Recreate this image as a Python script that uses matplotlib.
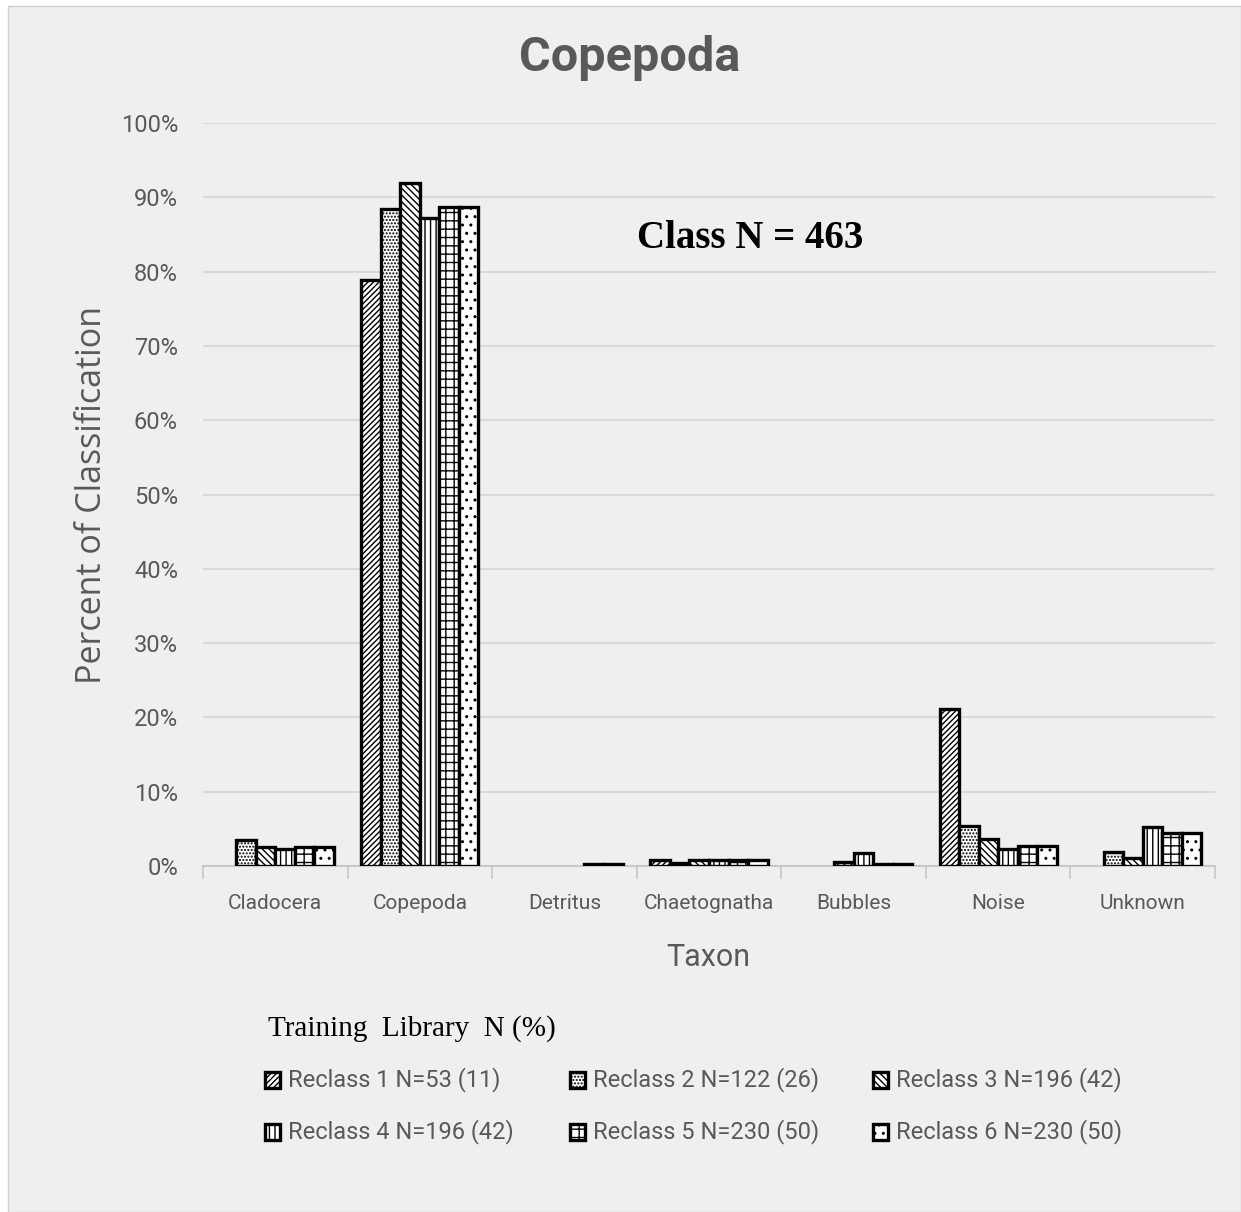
import numpy as np
import matplotlib
matplotlib.use("Agg")
import matplotlib.pyplot as plt
from matplotlib.patches import Rectangle

categories = ['Cladocera', 'Copepoda', 'Detritus', 'Chaetognatha', 'Bubbles', 'Noise', 'Unknown']

# percent of copepod images classified into each taxon, per training library
reclass1 = [0.0, 78.9, 0.0, 0.8, 0.0, 21.1, 0.0]
reclass2 = [3.5, 88.4, 0.0, 0.4, 0.0, 5.4, 1.9]
reclass3 = [2.5, 91.9, 0.0, 0.8, 0.5, 3.6, 1.1]
reclass4 = [2.3, 87.2, 0.0, 0.8, 1.8, 2.3, 5.2]
reclass5 = [2.6, 88.7, 0.3, 0.8, 0.3, 2.7, 4.4]
reclass6 = [2.6, 88.7, 0.3, 0.8, 0.3, 2.7, 4.4]

series = [reclass1, reclass2, reclass3, reclass4, reclass5, reclass6]
labels = ['Reclass 1 N=53 (11)', 'Reclass 2 N=122 (26)', 'Reclass 3 N=196 (42)',
          'Reclass 4 N=196 (42)', 'Reclass 5 N=230 (50)', 'Reclass 6 N=230 (50)']
hatches = ['//////', '.....', '\\\\\\\\\\', '|||', '++', '..']

bg = '#efefef'
grey_text = '#595959'
plt.rcParams['hatch.linewidth'] = 1.0

fig = plt.figure(figsize=(12.41, 12.12), dpi=100, facecolor='white')
fig.add_artist(Rectangle((8 / 1241, 0), 1 - 8 / 1241, 1 - 6 / 1212, transform=fig.transFigure,
                         facecolor=bg, edgecolor='#d0d0d0', lw=1.0, zorder=0))

ax = fig.add_axes([203 / 1241, 1 - 866 / 1212, (1215 - 203) / 1241, (866 - 123) / 1212])
ax.set_facecolor('none')

w = 0.135
x = np.arange(len(categories))
for j, vals in enumerate(series):
    vals = np.array(vals)
    keep = vals > 0
    ax.bar(x[keep] + (j - 2.5) * w, vals[keep], width=w, facecolor='white',
           edgecolor='black', linewidth=2.4, hatch=hatches[j], zorder=3)

ax.set_ylim(0, 100)
ax.set_xlim(-0.5, len(categories) - 0.5)
ax.set_yticks(np.arange(0, 101, 10))
ax.set_yticklabels(['%d%%' % v for v in range(0, 101, 10)])
ax.yaxis.grid(True, color='#d9d9d9', lw=1.5, zorder=0)
ax.set_axisbelow(True)
for s in ['left', 'right', 'top']:
    ax.spines[s].set_visible(False)
ax.spines['bottom'].set_color('#c8c8c8')
ax.spines['bottom'].set_linewidth(1.5)

ax.set_xticks(x)
ax.set_xticklabels(categories, fontsize=15, color=grey_text, family='Roboto')
ax.set_xticks(np.arange(-0.5, len(categories)), minor=True)
ax.tick_params(axis='x', which='major', length=0, pad=20)
ax.tick_params(axis='x', which='minor', length=9, color='#c8c8c8', width=1.2)
ax.tick_params(axis='y', length=0, pad=18, labelsize=17, labelcolor=grey_text)
for t in ax.get_yticklabels():
    t.set_family('Roboto')

fig.text(630 / 1241, 1 - 58 / 1212, 'Copepoda', ha='center', va='center', fontsize=35,
         weight='bold', color=grey_text, family='Roboto')
fig.text(750 / 1241, 1 - 238 / 1212, 'Class N = 463', ha='center', va='center', fontsize=28,
         weight='bold', color='black', family='Liberation Serif')
fig.text(92 / 1241, 1 - 495 / 1212, 'Percent of Classification', ha='center', va='center',
         rotation=90, fontsize=24.5, color=grey_text, family='Open Sans')
fig.text(708 / 1241, 1 - 957 / 1212, 'Taxon', ha='center', va='center', fontsize=22,
         color=grey_text, family='Roboto')

# legend drawn by hand: title row then a 2 x 3 grid of swatches
fig.text(268 / 1241, 1 - 1029 / 1212, 'Training  Library  N (%)', ha='left', va='center',
         fontsize=21, color='black', family='Liberation Serif')
col_x = [265, 570, 873]
row_y = [1080, 1132]
for k, lab in enumerate(labels):
    cx = col_x[k % 3]
    cy = row_y[k // 3]
    fig.add_artist(Rectangle((cx / 1241, 1 - (cy + 8) / 1212), 15 / 1241, 16 / 1212,
                             transform=fig.transFigure, facecolor='white', edgecolor='black',
                             lw=2.4, hatch=hatches[k]))
    fig.text((cx + 23) / 1241, 1 - cy / 1212, lab, ha='left', va='center', fontsize=17,
             color=grey_text, family='Roboto')

fig.savefig('out.png', dpi=100, facecolor=fig.get_facecolor())
